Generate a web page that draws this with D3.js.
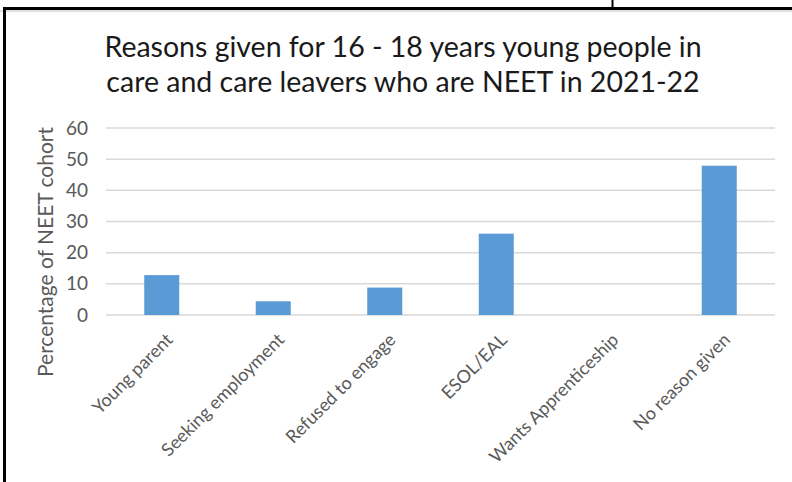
<!DOCTYPE html>
<html>
<head>
<meta charset="utf-8">
<script src="https://cdn.jsdelivr.net/npm/d3@7"></script>
<style>
  html, body { margin: 0; padding: 0; background: #fff; }
  svg { display: block; }
  text { font-family: Lato, "Liberation Sans", sans-serif; }
</style>
</head>
<body>
<svg id="chart" width="792" height="482"></svg>
<script>
// Reasons recorded for NEET status, share of the NEET cohort (%)
const categories = [
  "Young parent",
  "Seeking employment",
  "Refused to engage",
  "ESOL/EAL",
  "Wants Apprenticeship",
  "No reason given"
];
const values = [12.8, 4.4, 8.8, 26.1, 0, 47.9];
const yTicks = [0, 10, 20, 30, 40, 50, 60];
const titleLines = [
  "Reasons given for 16 - 18 years young people in",
  "care and care leavers who are NEET in 2021-22"
];
const yAxisTitle = "Percentage of NEET cohort";

const W = 792, H = 482;
const svg = d3.select("#chart");

// Frame around the chart area
const frame = svg.append("g").attr("stroke", "#000").attr("fill", "none");
frame.append("line").attr("x1", 0).attr("x2", W).attr("y1", 11).attr("y2", 11)
  .attr("stroke", "#d4d4d4").attr("stroke-width", 1.5);
frame.append("line").attr("x1", 3).attr("x2", W).attr("y1", 8.5).attr("y2", 8.5).attr("stroke-width", 3);
frame.append("line").attr("x1", 4.5).attr("x2", 4.5).attr("y1", 7).attr("y2", H).attr("stroke-width", 3);
frame.append("line").attr("x1", 612.5).attr("x2", 612.5).attr("y1", 0).attr("y2", 8).attr("stroke-width", 2);

// Plot area
const plot = { left: 106, right: 775, top: 128, bottom: 315 };

const x = d3.scaleBand()
  .domain(categories)
  .range([plot.left, plot.right])
  .paddingInner(0.686)
  .paddingOuter(0.343);

const y = d3.scaleLinear()
  .domain([0, 60])
  .range([plot.bottom, plot.top]);

// Title
svg.append("text")
  .attr("x", 403)
  .attr("text-anchor", "middle")
  .attr("font-size", 28.5)
  .attr("fill", "#1a1a1a")
  .selectAll("tspan")
  .data(titleLines)
  .join("tspan")
  .attr("x", 403)
  .attr("y", (d, i) => 57 + i * 35)
  .text(d => d);

// Horizontal gridlines
svg.append("g")
  .selectAll("line")
  .data(yTicks)
  .join("line")
  .attr("x1", plot.left)
  .attr("x2", plot.right)
  .attr("y1", d => y(d))
  .attr("y2", d => y(d))
  .attr("stroke", "#d9d9d9")
  .attr("stroke-width", 1.5);

// Y axis labels
const yAxis = d3.axisLeft(y).tickValues(yTicks).tickSize(0).tickPadding(0);
const yAxisG = svg.append("g")
  .attr("transform", `translate(${plot.left - 18},0)`)
  .call(yAxis);
yAxisG.select(".domain").remove();
yAxisG.selectAll("text")
  .attr("font-family", "Lato, 'Liberation Sans', sans-serif")
  .attr("font-size", 19)
  .attr("fill", "#595959");

// Bars
svg.append("g")
  .selectAll("rect")
  .data(values)
  .join("rect")
  .attr("x", (d, i) => x(categories[i]))
  .attr("width", x.bandwidth())
  .attr("y", d => y(d))
  .attr("height", d => y(0) - y(d))
  .attr("fill", "#5b9bd5");

// X axis labels, rotated
const xAxis = d3.axisBottom(x).tickSize(0).tickPadding(0);
const xAxisG = svg.append("g")
  .attr("transform", `translate(0,${plot.bottom})`)
  .call(xAxis);
xAxisG.select(".domain").remove();
xAxisG.selectAll("text")
  .attr("font-family", "Lato, 'Liberation Sans', sans-serif")
  .attr("font-size", 18)
  .attr("fill", "#595959")
  .attr("text-anchor", "end")
  .attr("dy", null)
  .attr("y", 0)
  .attr("transform", "translate(12,26) rotate(-45)");

// Y axis title
svg.append("text")
  .attr("transform", "translate(53,252) rotate(-90)")
  .attr("text-anchor", "middle")
  .attr("font-size", 21)
  .attr("fill", "#595959")
  .text(yAxisTitle);
</script>
</body>
</html>
